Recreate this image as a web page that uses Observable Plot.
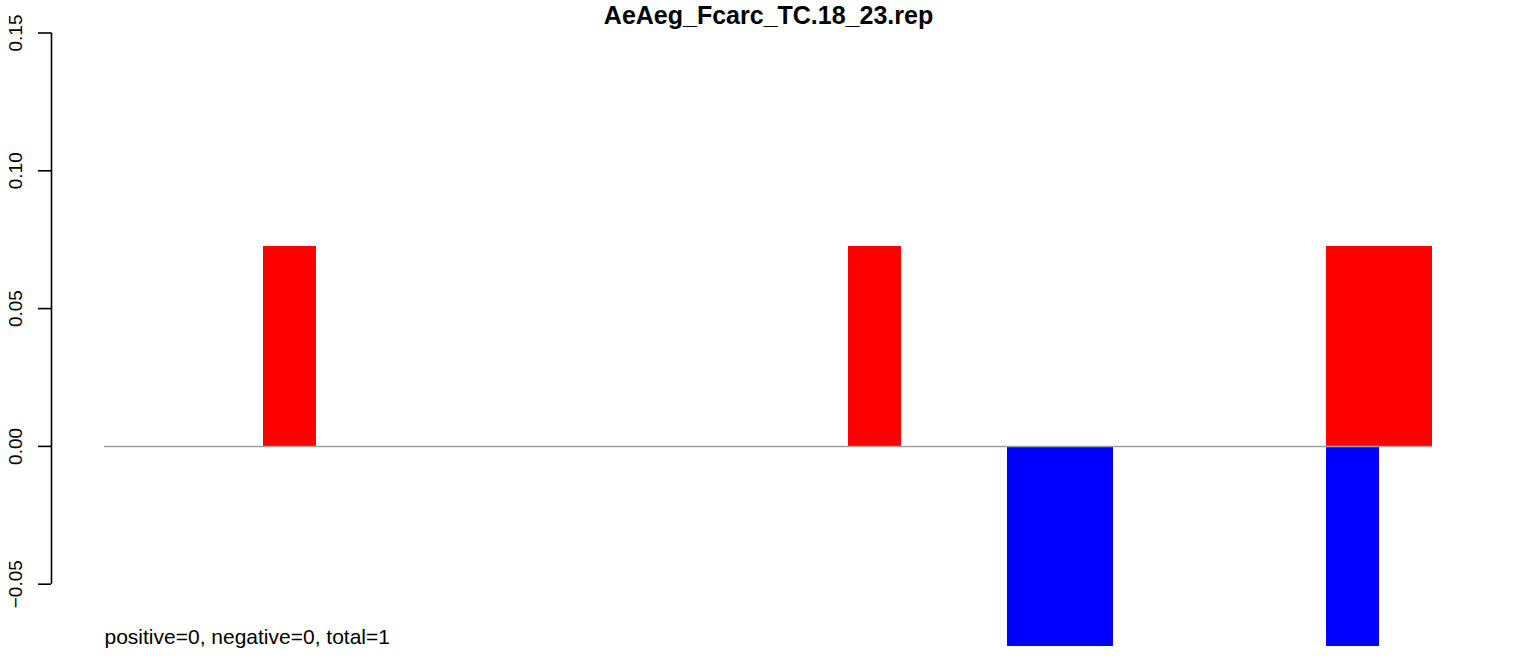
<!DOCTYPE html>
<html>
<head>
<meta charset="utf-8">
<script src="https://cdn.jsdelivr.net/npm/d3@7"></script>
<script src="https://cdn.jsdelivr.net/npm/@observablehq/plot@0.6"></script>
<style>
  html, body { margin: 0; padding: 0; background: #ffffff; }
  #chart svg { display: block; font-family: "Liberation Sans", Arial, Helvetica, sans-serif; }
</style>
</head>
<body>
<div id="chart"></div>
<script>
// ---- data ----
const title = "AeAeg_Fcarc_TC.18_23.rep";
const caption = "positive=0, negative=0, total=1";
const positions = [0,1,2,3,4,5,6,7,8,9,10,11,12,13,14,15,16,17,18,19,20,21,22,23,24];
const positive  = [0,0,0,0.0725,0,0,0,0,0,0,0,0,0,0,0.0725,0,0,0,0,0,0,0,0,0.0725,0.0725];
const negative  = [0,0,0,0,0,0,0,0,0,0,0,0,0,0,0,0,0,-0.0725,-0.0725,0,0,0,0,-0.0725,0];
const yTicks = [-0.05, 0, 0.05, 0.10, 0.15];

const posBars = positions.map((p, i) => ({pos: p, value: positive[i]})).filter(d => d.value !== 0);
const negBars = positions.map((p, i) => ({pos: p, value: negative[i]})).filter(d => d.value !== 0);
const fmt = d3.format(".2f");

const chart = Plot.plot({
  width: 1536,
  height: 656,
  marginLeft: 104,
  marginRight: 104,
  marginTop: 32.5,
  marginBottom: 72.3,
  style: {fontFamily: "'Liberation Sans', Arial, Helvetica, sans-serif", background: "#ffffff"},
  x: {domain: [0, positions.length], axis: null},
  y: {domain: [-0.05, 0.15], axis: null},
  marks: [
    Plot.rectY(posBars, {x1: "pos", x2: d => d.pos + 1, y1: 0, y2: "value", fill: "#ff0000", inset: 0, shapeRendering: "crispEdges"}),
    Plot.rectY(negBars, {x1: "pos", x2: d => d.pos + 1, y1: 0, y2: "value", fill: "#0000ff", inset: 0, shapeRendering: "crispEdges"}),
    Plot.ruleY([0], {stroke: "#a0a0a0", strokeWidth: 1.5}),
    // y axis (R style, offset left of the plot region)
    Plot.ruleX([0], {y1: yTicks[0], y2: yTicks[yTicks.length - 1], dx: -53, stroke: "#000", strokeWidth: 1.6}),
    Plot.axisY({ticks: yTicks, tickSize: 13, dx: -53, tickFormat: () => "", label: null, stroke: "#000", strokeWidth: 1.6}),
    Plot.text(yTicks, {y: d => d, text: d => fmt(d), frameAnchor: "left", dx: -89, rotate: -90,
      textAnchor: "middle", lineAnchor: "middle", fontSize: 19, fill: "#000"}),
    Plot.text([title], {frameAnchor: "top", dy: -9.5, lineAnchor: "bottom", textAnchor: "middle",
      fontSize: 25, fontWeight: "bold", fill: "#000"}),
    Plot.text([caption], {frameAnchor: "bottom-left", dy: 60, lineAnchor: "bottom", textAnchor: "start",
      fontSize: 21, fill: "#000"})
  ]
});
document.getElementById("chart").appendChild(chart);
</script>
</body>
</html>
